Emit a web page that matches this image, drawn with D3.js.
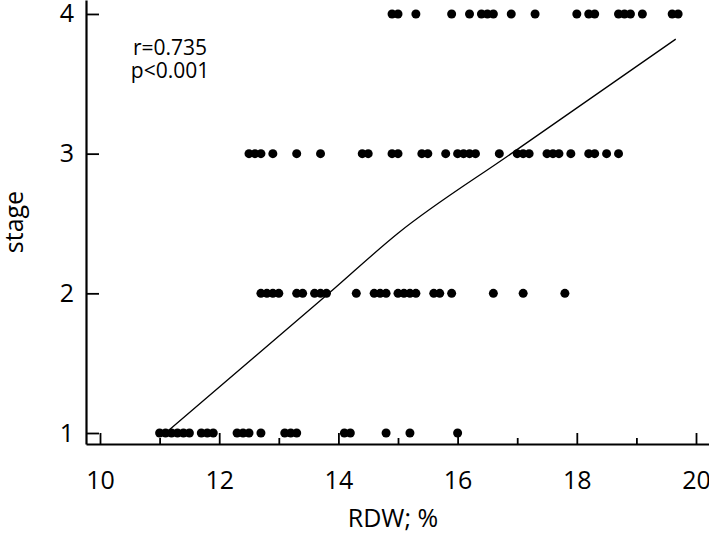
<!DOCTYPE html>
<html>
<head>
<meta charset="utf-8">
<script src="https://cdn.jsdelivr.net/npm/d3@7"></script>
<style>
  body { margin: 0; background: #fff; }
  text { font-family: "Open Sans", "Noto Sans", sans-serif; fill: #000; }
</style>
</head>
<body>
<div id="chart"></div>
<script>
// RDW (%) of each patient, grouped by stage
const stage1 = [11.0, 11.1, 11.2, 11.3, 11.4, 11.5, 11.7, 11.8, 11.9, 12.3, 12.4, 12.5, 12.7,
    13.1, 13.2, 13.3, 14.1, 14.2, 14.8, 15.2, 16.0]
const stage2 = [12.7, 12.8, 12.9, 13.0, 13.3, 13.4, 13.6, 13.7, 13.8, 14.3, 14.6, 14.7, 14.8,
    15.0, 15.1, 15.2, 15.3, 15.6, 15.7, 15.9, 16.6, 17.1, 17.8]
const stage3 = [12.5, 12.6, 12.7, 12.9, 13.3, 13.7, 14.4, 14.5, 14.9, 15.0, 15.4, 15.5, 15.8,
    16.0, 16.1, 16.2, 16.3, 16.7, 17.0, 17.1, 17.2, 17.5, 17.6, 17.7, 17.9, 18.2, 18.3, 18.5, 18.7]
const stage4 = [14.9, 15.0, 15.3, 15.9, 16.2, 16.4, 16.5, 16.6, 16.9, 17.3, 18.0, 18.2, 18.3,
    18.7, 18.8, 18.9, 19.1, 19.6, 19.7]

// fitted curve (RDW, stage)
const fitX = [11.1, 13.84, 15.0, 16.9, 19.66]
const fitY = [1.0, 2.0, 2.43, 3.0, 3.82]

const xTicks = [10, 12, 14, 16, 18, 20]
const xMinorTicks = [11, 13, 15, 17, 19]
const yTicks = [1, 2, 3, 4]
const statsText = ["r=0.735", "p<0.001"]

const width = 709, height = 534

const svg = d3.select("#chart")
    .append("svg")
    .attr("width", width)
    .attr("height", height)

const x = d3.scaleLinear()
    .domain([9.765, 20.218])
    .range([86, 709])

const y = d3.scaleLinear()
    .domain([0.9213, 4.1])
    .range([444, 0])

// flatten the groups into points
var points = []
const groups = [stage1, stage2, stage3, stage4]
groups.forEach((vals, i) => {
    vals.forEach(v => points.push({ rdw: v, stage: i + 1 }))
})

// fit line
const line = d3.line()
    .curve(d3.curveMonotoneX)
    .x(d => x(d[0]))
    .y(d => y(d[1]))

svg.append("path")
    .datum(fitX.map((v, i) => [v, fitY[i]]))
    .attr("d", line)
    .attr("fill", "none")
    .attr("stroke", "#000")
    .attr("stroke-width", 1.3)

// dots
svg.selectAll("circle.dot")
    .data(points)
    .enter().append("circle")
    .attr("class", "dot")
    .attr("cx", d => x(d.rdw))
    .attr("cy", d => y(d.stage))
    .attr("r", 4.5)
    .attr("fill", "#000")

// x axis, ticks pointing inward
const xAxisG = svg.append("g")
    .attr("transform", "translate(0," + y.range()[0] + ")")
    .call(d3.axisBottom(x).tickValues(xTicks).tickSizeInner(-11).tickSizeOuter(0).tickPadding(27)
        .tickFormat(d3.format("d")))

svg.append("g")
    .attr("transform", "translate(0," + y.range()[0] + ")")
    .call(d3.axisBottom(x).tickValues(xMinorTicks).tickSizeInner(-6).tickSizeOuter(0).tickFormat(""))
    .select(".domain").remove()

const yAxisG = svg.append("g")
    .attr("transform", "translate(" + x.range()[0] + ",0)")
    .call(d3.axisLeft(y).tickValues(yTicks).tickSizeInner(-13).tickSizeOuter(0).tickPadding(12)
        .tickFormat(d3.format("d")))

svg.selectAll(".domain").attr("stroke-width", 2.2)
svg.selectAll(".tick line").attr("stroke-width", 1.8)
xAxisG.selectAll(".tick text").style("font-size", "25px").attr("dy", "0.71em")
yAxisG.selectAll(".tick text").style("font-size", "25px")

// axis titles
svg.append("text")
    .attr("x", 393)
    .attr("y", 527)
    .attr("text-anchor", "middle")
    .style("font-size", "25px")
    .text("RDW; %")

svg.append("text")
    .attr("transform", "translate(23,222) rotate(-90)")
    .attr("text-anchor", "middle")
    .style("font-size", "25px")
    .text("stage")

// stats, one text block with two lines
svg.append("text")
    .attr("y", 55)
    .attr("text-anchor", "middle")
    .style("font-size", "21px")
    .selectAll("tspan")
    .data(statsText)
    .enter().append("tspan")
    .attr("x", 170)
    .attr("dy", (d, i) => i === 0 ? 0 : 22.5)
    .text(d => d)
</script>
</body>
</html>
